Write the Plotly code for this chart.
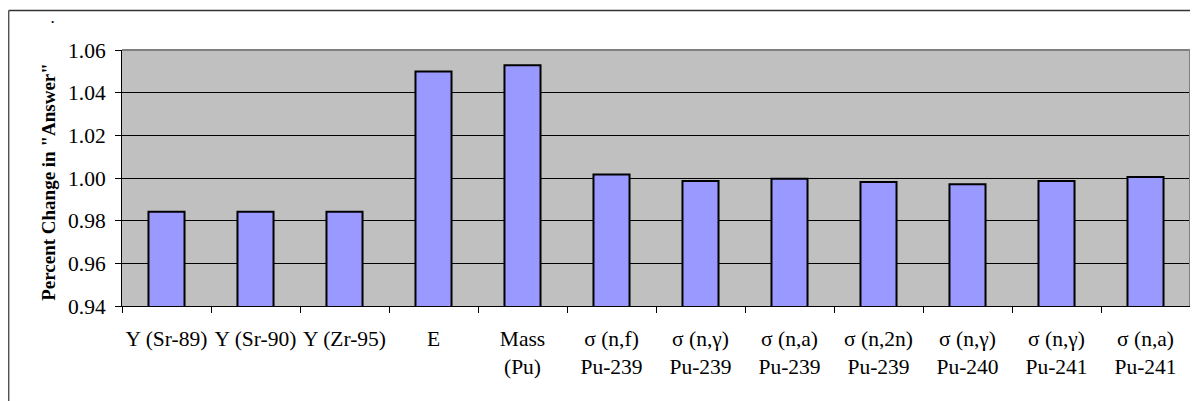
import plotly.graph_objects as go

categories = [
    "Y (Sr-89)", "Y (Sr-90)", "Y (Zr-95)", "E", "Mass<br>(Pu)",
    "σ (n,f)<br>Pu-239", "σ (n,γ)<br>Pu-239", "σ (n,a)<br>Pu-239",
    "σ (n,2n)<br>Pu-239", "σ (n,γ)<br>Pu-240", "σ (n,γ)<br>Pu-241",
    "σ (n,a)<br>Pu-241",
]
values = [0.9842, 0.9842, 0.9842, 1.0499, 1.0528,
          1.0016, 0.9986, 0.9997, 0.9981, 0.9971, 0.9986, 1.0005]
y_ticks = [0.94, 0.96, 0.98, 1.00, 1.02, 1.04, 1.06]

FONT = "Liberation Serif, Times New Roman, serif"
TICK_SIZE = 21.5
TITLE_SIZE = 19

fig = go.Figure(go.Bar(
    x=categories, y=values,
    marker=dict(color="#9999FF", line=dict(color="black", width=2)),
))

# page body has an 8px margin, so figure coords = screenshot coords - 8
W, H = 1190, 393
L, R, T, B = 114, 8, 42, 95
pw = W - L - R
ph = H - T - B

fig.update_layout(
    width=W, height=H,
    margin=dict(l=L, r=R, t=T, b=B, pad=0),
    paper_bgcolor="white", plot_bgcolor="#C0C0C0",
    bargap=0.595,
    showlegend=False,
    font=dict(family=FONT, size=TICK_SIZE, color="black"),
)
fig.update_xaxes(
    type="category", tickson="boundaries", ticks="outside", ticklen=6,
    tickcolor="black", showline=True, linecolor="black", linewidth=1,
    showgrid=False, ticklabelstandoff=13, tickangle=0, automargin=False,
    tickfont=dict(family=FONT, size=TICK_SIZE, color="black"),
)
fig.update_yaxes(
    range=[0.94, 1.06], tickvals=y_ticks, tickformat=".2f",
    ticks="outside", ticklen=6, tickcolor="black", ticklabelstandoff=5,
    showline=True, linecolor="black", linewidth=1, automargin=False,
    showgrid=True, gridcolor="black", gridwidth=1, zeroline=False,
    tickfont=dict(family=FONT, size=TICK_SIZE, color="black"),
)

# plot-area border (top and right) in grey
fig.add_shape(type="line", xref="paper", yref="paper", x0=0, x1=1, y0=1, y1=1,
              line=dict(color="#808080", width=2), layer="above")
fig.add_shape(type="line", xref="paper", yref="paper", x0=1, x1=1, y0=0, y1=1,
              line=dict(color="#808080", width=2), layer="above")

# outer chart border (top and left visible)
ox = (0.75 - L) / pw
oy = (H - B - 2.5) / ph
fig.add_shape(type="line", xref="paper", yref="paper", x0=ox, x1=1.2, y0=oy, y1=oy,
              line=dict(color="#333333", width=1.5), layer="above")
fig.add_shape(type="line", xref="paper", yref="paper", x0=ox, x1=ox, y0=oy, y1=-1,
              line=dict(color="#333333", width=1.2), layer="above")

# y-axis title
fig.add_annotation(
    text='<b>Percent Change in "Answer"</b>', textangle=-90,
    xref="paper", yref="paper", x=(41 - L) / pw, y=0.485,
    xanchor="center", yanchor="middle", showarrow=False,
    font=dict(family=FONT, size=TITLE_SIZE, color="black"),
)
# small chart title (a single dot)
fig.add_annotation(
    text="<b>.</b>", xref="paper", yref="paper",
    x=(44 - L) / pw, y=(H - B - 0.5) / ph,
    xanchor="center", yanchor="top", showarrow=False,
    font=dict(family=FONT, size=13, color="black"),
)

fig.write_html("out.html")
